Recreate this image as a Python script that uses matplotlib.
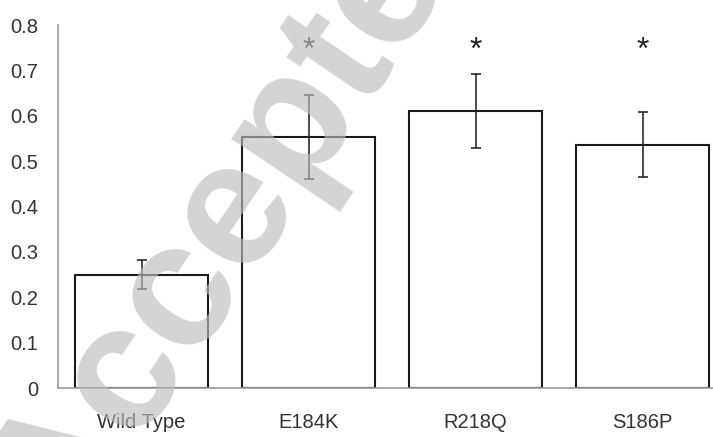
import numpy as np
import matplotlib.pyplot as plt

plt.rcParams['font.family'] = ['Liberation Sans', 'DejaVu Sans']

# data
groups = ['Wild Type', 'E184K', 'R218Q', 'S186P']
means = [0.25, 0.553, 0.611, 0.537]
errs = [0.032, 0.093, 0.082, 0.072]
signif = [False, True, True, True]
star_base = 0.726

fig = plt.figure(figsize=(7.13, 4.37), dpi=100)
ax = fig.add_axes([58/713, 1-388/437, 1-58/713, (388-25.3)/437])

x = np.arange(len(groups))
ax.bar(x, means, width=0.8, color='white', edgecolor='#1a1a1a', linewidth=1.5, zorder=2)
ax.errorbar(x, means, yerr=errs, fmt='none', ecolor='#1a1a1a', elinewidth=1.1,
            capsize=3.6, capthick=1.1, zorder=3)
for xi, s in zip(x, signif):
    if s:
        ax.text(xi, star_base, '*', ha='center', va='baseline', fontsize=23, color='#222222', zorder=3)

ax.set_xlim(-0.5, 3.422)
ax.set_ylim(0, 0.8)
ax.set_yticks(np.arange(0, 0.81, 0.1))
ax.set_yticklabels(['0', '0.1', '0.2', '0.3', '0.4', '0.5', '0.6', '0.7', '0.8'])
ax.set_xticks(x)
ax.set_xticklabels(groups)
ax.tick_params(axis='both', length=0, labelsize=14.5, labelcolor='#333333')
ax.tick_params(axis='y', pad=14)
ax.tick_params(axis='x', pad=18)
for s in ['top', 'right']:
    ax.spines[s].set_visible(False)
for s in ['left', 'bottom']:
    ax.spines[s].set_color('#999999')
    ax.spines[s].set_linewidth(1.2)

# watermark
fig.text(250/713, 1-192/437, 'Accepted', rotation=56, fontsize=128, fontweight='bold',
         color='#bdbdbd', alpha=0.65, ha='center', va='center',
         rotation_mode='anchor', zorder=10)

fig.savefig('out.png', dpi=100)
